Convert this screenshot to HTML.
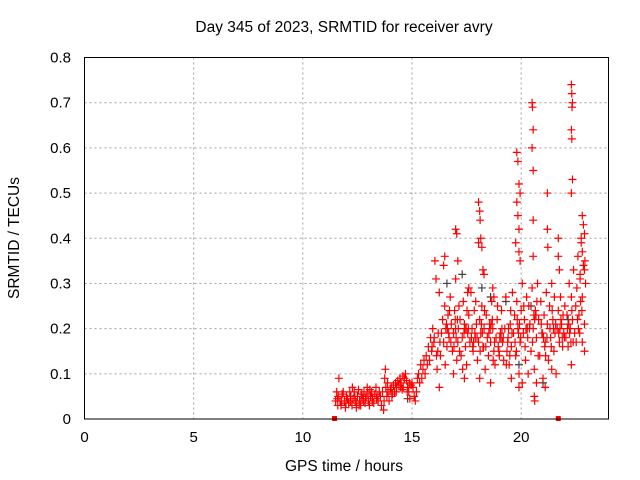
<!DOCTYPE html>
<html><head><meta charset="utf-8"><style>
body{margin:0;background:#fff}
svg{display:block;font-family:"Liberation Sans",sans-serif}
</style></head><body>
<svg id="chart" width="640" height="480" viewBox="0 0 640 480">
<rect width="640" height="480" fill="#fff"/>
<text x="344" y="32" font-size="15.5" text-anchor="middle">Day 345 of 2023, SRMTID for receiver avry</text>
<g id="grid"></g>
<g id="gray"></g>
<g id="red"></g>
<rect x="84.5" y="57.5" width="524" height="361.5" fill="none" stroke="#000" stroke-width="1"/>
<g id="ticks" font-size="15"></g>
<text x="344" y="471" font-size="15.5" text-anchor="middle">GPS time / hours</text>
<text transform="translate(19,238) rotate(-90)" font-size="15.5" text-anchor="middle">SRMTID / TECUs</text>
</svg>
<script>
const xTicks=[0,5,10,15,20];
const yTicks=[0,0.1,0.2,0.3,0.4,0.5,0.6,0.7,0.8];
const yTickLabels=["0","0.1","0.2","0.3","0.4","0.5","0.6","0.7","0.8"];
const redX=[11.5,11.55,11.6,11.62,11.65,11.7,11.75,11.8,11.85,11.9,11.95,12.0,12.05,12.1,12.15,12.2,12.25,12.3,12.35,12.4,12.45,12.5,12.55,12.6,12.65,12.7,12.75,12.8,12.85,12.9,12.95,13.0,13.05,13.1,13.15,13.2,13.25,13.3,13.35,13.4,13.45,13.5,11.58,11.78,11.98,12.18,12.38,12.58,12.78,12.98,13.18,13.38,12.27,12.47,12.67,12.87,13.07,
13.55,13.6,13.65,13.7,13.75,13.78,13.8,13.85,13.9,13.95,14.0,14.05,14.1,14.15,14.2,14.25,14.3,14.35,14.4,14.45,14.5,14.55,14.6,14.65,14.7,14.75,14.8,14.85,14.9,14.95,15.0,13.72,13.88,14.08,14.28,14.48,14.58,14.78,14.88,15.05,15.1,15.15,15.2,15.25,
15.3,15.35,15.4,15.45,15.5,15.55,15.6,15.65,15.7,15.75,15.8,15.85,15.9,15.95,16.0,16.12,16.15,16.2,16.25,16.3,16.35,16.4,
16.45,16.5,16.55,16.6,16.65,16.7,16.75,16.8,16.85,16.9,16.95,17.0,17.05,17.1,17.15,17.2,17.25,17.3,17.35,17.4,17.45,17.5,17.55,17.6,17.65,17.7,17.75,17.8,17.85,17.9,17.95,18.0,18.05,18.1,18.15,18.2,18.25,18.3,18.35,18.4,18.45,18.5,18.55,18.6,18.65,18.7,18.75,18.8,18.85,18.9,18.95,19.0,19.05,19.1,19.15,19.2,19.25,19.3,19.35,19.4,19.45,19.5,19.55,19.6,19.65,19.7,19.75,19.8,19.85,19.9,19.95,20.0,20.05,20.1,20.15,20.2,20.25,20.3,20.35,20.4,20.45,20.5,20.55,20.6,20.65,20.7,20.75,20.8,20.85,20.9,20.95,21.0,21.05,21.1,21.15,21.2,21.25,21.3,21.35,21.4,21.45,21.5,21.55,21.6,21.65,21.7,21.75,21.8,21.85,21.9,21.95,22.0,22.05,22.1,22.15,22.2,22.25,22.3,22.35,22.4,22.45,22.5,22.55,22.6,22.65,22.7,22.75,22.8,22.85,22.9,22.95,
16.52,16.72,16.92,17.12,17.32,17.52,17.72,17.92,18.12,18.32,18.52,18.72,18.92,19.12,19.32,19.52,19.72,19.92,20.12,20.32,20.52,20.72,20.92,21.12,21.32,21.52,21.72,21.92,22.12,22.32,22.52,22.72,22.92,16.62,17.02,17.42,17.82,18.22,18.62,19.02,19.42,19.82,20.22,20.62,21.02,21.42,21.82,22.22,22.62,
16.58,16.78,16.98,17.18,17.38,17.58,17.78,17.98,18.18,18.38,18.58,18.78,18.98,19.18,19.38,19.58,19.78,19.98,20.18,20.38,20.58,20.78,20.98,21.18,21.38,21.58,21.78,21.98,22.18,22.38,22.58,22.78,
16.68,17.08,17.48,17.88,18.28,18.68,19.08,19.48,19.88,20.28,20.68,21.08,21.48,21.88,22.28,22.68,15.92,16.02,16.18,16.28,
16.05,16.1,16.45,16.5,16.25,17.0,17.05,17.1,17.0,17.15,17.55,17.6,18.05,18.1,18.12,18.15,18.2,18.05,18.25,18.3,18.7,18.75,19.8,19.85,19.9,19.95,19.8,19.85,19.9,19.75,19.9,19.95,20.5,20.52,20.55,20.5,20.55,20.55,20.55,21.2,21.2,21.22,21.7,21.7,21.75,22.3,22.32,22.35,22.33,22.3,22.32,22.35,22.3,22.8,22.85,22.9,22.75,22.8,22.9,22.7,
19.9,20.05,20.6,20.62,20.7,21.1,22.3,22.9,22.8,18.1,17.4,18.6,19.55,16.9,21.4];
const redY=[.04,.06,.03,.05,.09,.04,.03,.055,.06,.04,.025,.05,.045,.035,.06,.05,.03,.045,.06,.04,.025,.05,.065,.04,.03,.055,.045,.06,.035,.05,.07,.04,.03,.05,.06,.045,.035,.055,.07,.05,.04,.06,.045,.04,.035,.04,.05,.03,.04,.055,.04,.045,.07,.035,.05,.045,.065,
.05,.03,.06,.02,.09,.11,.07,.05,.06,.04,.065,.07,.055,.075,.06,.08,.07,.085,.075,.09,.08,.065,.07,.09,.1,.085,.07,.06,.045,.075,.08,.04,.08,.05,.06,.07,.095,.06,.08,.07,.05,.04,.06,.09,
.1,.08,.12,.09,.11,.13,.1,.14,.12,.16,.13,.18,.15,.2,.17,.14,.11,.19,.07,.14,.19,.22,
.17,.25,.2,.16,.23,.18,.27,.21,.15,.19,.24,.2,.13,.17,.25,.22,.14,.18,.26,.21,.16,.12,.19,.23,.17,.28,.2,.15,.24,.18,.21,.13,.17,.22,.19,.25,.16,.2,.11,.23,.18,.14,.21,.17,.26,.2,.15,.12,.18,.22,.16,.14,.19,.24,.17,.13,.2,.27,.15,.18,.12,.21,.16,.28,.19,.23,.14,.26,.2,.1,.17,.24,.3,.19,.22,.13,.27,.18,.25,.21,.15,.29,.2,.11,.24,.18,.3,.22,.14,.26,.19,.09,.23,.17,.28,.21,.13,.25,.18,.3,.22,.15,.19,.1,.2,.24,.17,.27,.21,.16,.19,.25,.18,.23,.16,.3,.2,.27,.22,.33,.19,.25,.29,.36,.23,.31,.4,.27,.34,.21,.3,
.12,.24,.16,.2,.11,.24,.18,.26,.15,.24,.19,.13,.25,.2,.12,.24,.17,.21,.25,.1,.17,.26,.21,.14,.2,.27,.19,.23,.2,.24,.17,.26,.35,.2,.18,.2,.17,.19,.21,.18,.2,.22,.2,.22,.18,.24,.22,.19,.2,
.21,.17,.22,.15,.19,.2,.16,.18,.21,.16,.2,.17,.15,.18,.17,.19,.15,.18,.16,.2,.23,.14,.19,.18,.16,.21,.2,.18,.21,.17,.22,.24,
.19,.22,.2,.19,.16,.22,.18,.14,.19,.2,.23,.16,.2,.18,.17,.19,.16,.18,.15,.17,
.35,.31,.34,.36,.28,.42,.41,.35,.31,.25,.28,.29,.48,.46,.44,.4,.38,.39,.33,.32,.29,.27,.59,.57,.52,.5,.48,.45,.42,.39,.37,.35,.7,.69,.64,.6,.55,.44,.36,.5,.42,.38,.4,.36,.33,.74,.72,.7,.69,.64,.62,.53,.5,.45,.43,.41,.39,.37,.33,.32,
.07,.08,.05,.04,.08,.07,.12,.15,.17,.09,.09,.08,.09,.1,.11];
const grayX=[18.6,19.3,17.3,20.45,22.15,13.1,14.8,19.9,21.0,18.2,16.6];
const grayY=[.27,.26,.32,.25,.22,.05,.045,.12,.08,.29,.3];
const endMarksX=[11.45,21.7];
const endMarksY=[0,0];

const L=84.5,R=608.5,T=57.5,B=419;
const xs=v=>L+(v-0)/(24-0)*(R-L);
const ys=v=>B-(v-0)/(0.8-0)*(B-T);
const NS="http://www.w3.org/2000/svg";
function mk(tag,parent){const e=document.createElementNS(NS,tag);parent.appendChild(e);return e;}
const grid=document.getElementById('grid'),ticks=document.getElementById('ticks');
xTicks.forEach(v=>{
  const x=xs(v);
  if(v>0){const g=mk('line',grid);
  
  
  g.setAttribute('x1',x);g.setAttribute('x2',x);g.setAttribute('y1',T);g.setAttribute('y2',B);
  g.setAttribute('stroke','#a0a0a0');g.setAttribute('stroke-dasharray','2,3');}
  const t=mk('text',ticks);
  
  
  t.setAttribute('x',x);t.setAttribute('y',442);t.setAttribute('text-anchor','middle');t.textContent=v;
});
yTicks.forEach((v,i)=>{
  const y=ys(v);
  if(v>0&&v<0.8){const g=mk('line',grid);
  
  
  g.setAttribute('x1',L);g.setAttribute('x2',R);g.setAttribute('y1',y);g.setAttribute('y2',y);
  g.setAttribute('stroke','#a0a0a0');g.setAttribute('stroke-dasharray','2,3');}
  const t=mk('text',ticks);
  
  
  t.setAttribute('x',71);t.setAttribute('y',y+5);t.setAttribute('text-anchor','end');t.textContent=yTickLabels[i];
});
function plus(g,X,Y,color,name){
  let d='';
  for(let i=0;i<X.length;i++){const x=xs(X[i]),y=ys(Y[i]);d+=`M${x-4} ${y}h8M${x} ${y-4}v8`;}
  const p=mk('path',g);
  
  
  p.setAttribute('d',d);p.setAttribute('stroke',color);p.setAttribute('stroke-width','1.2');p.setAttribute('fill','none');
}
plus(document.getElementById('gray'),grayX,grayY,'#404040','gray-points');
plus(document.getElementById('red'),redX,redY,'#ff0000','red-points');
endMarksX.forEach((v,i)=>{
  const r=mk('rect',document.getElementById('red'));
  
  
  r.setAttribute('x',xs(v)-2.5);r.setAttribute('y',ys(endMarksY[i])-3);r.setAttribute('width',5);r.setAttribute('height',5);r.setAttribute('fill','#ff0000');
});
</script>
</body></html>
